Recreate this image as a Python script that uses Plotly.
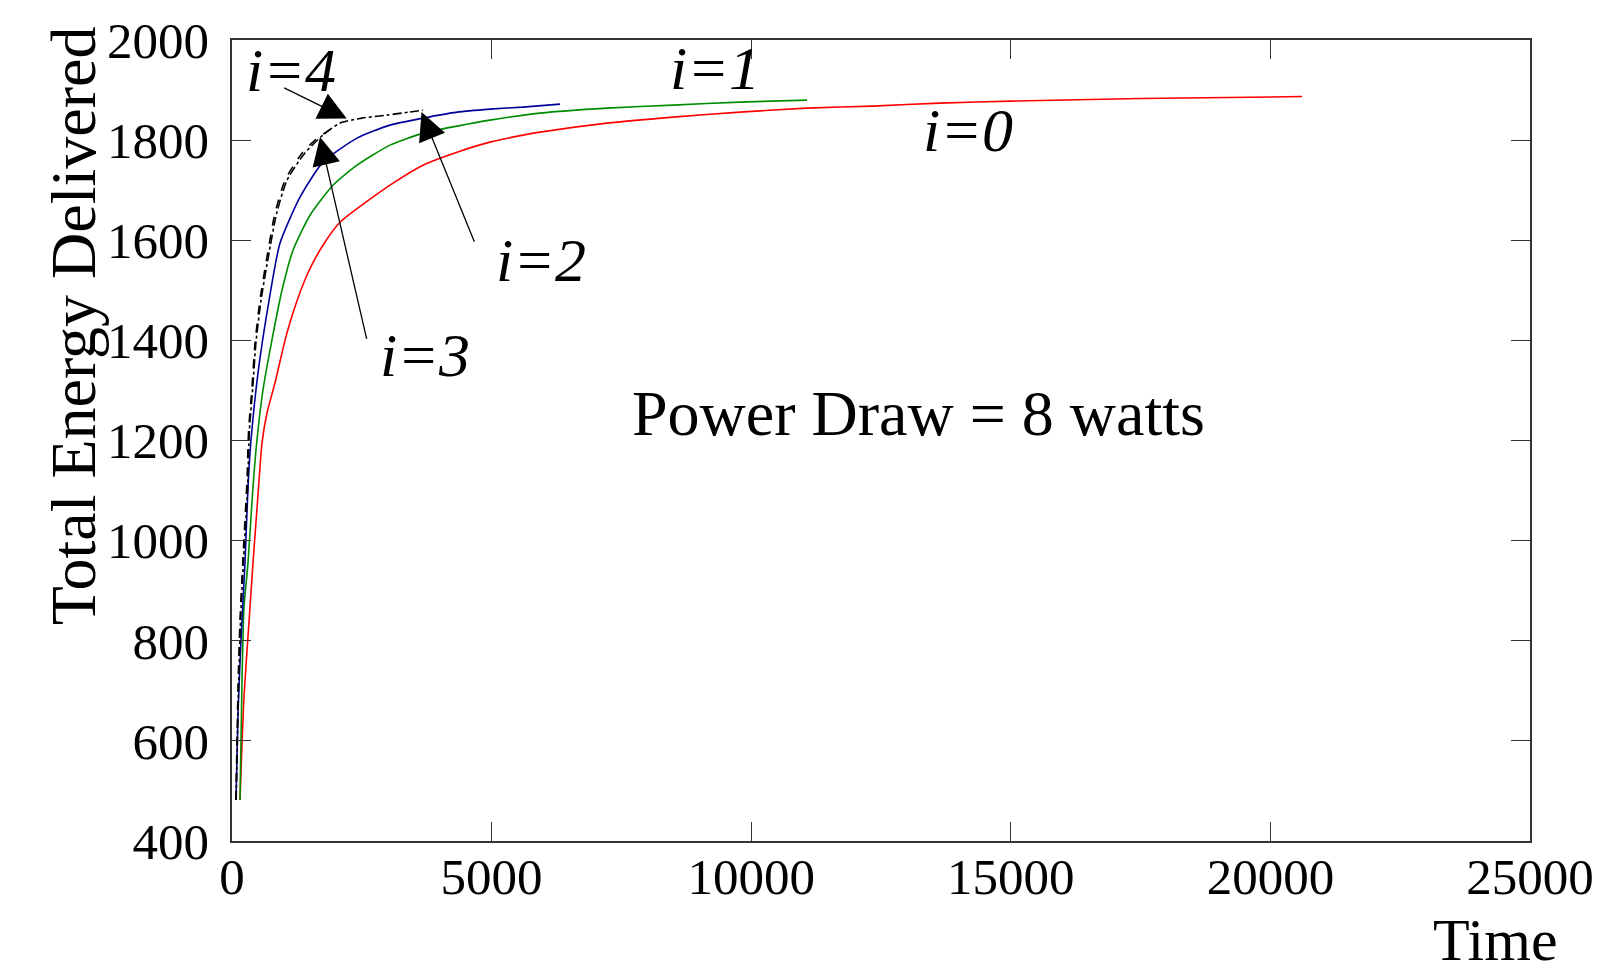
import plotly.graph_objects as go

# ---------------- data ----------------
x_i0 = [154, 231, 327, 404, 500, 578, 674, 828, 1021, 1213, 1464, 1752, 2080, 3043, 3679,
        4334, 4969, 5605, 5932, 7222, 8494, 9784, 11074, 12346, 13636, 15000, 17500, 20610]
y_i0 = [482, 688, 837, 955, 1090, 1195, 1255, 1315, 1400, 1467, 1535, 1590, 1636, 1710, 1750,
        1776, 1796, 1810, 1816, 1834, 1846, 1856, 1864, 1868, 1874, 1878, 1883, 1887]

x_i1 = [154, 193, 231, 308, 404, 481, 597, 770, 963, 1175, 1502, 1945, 2408, 3043, 3679,
        4334, 4969, 5932, 7222, 8494, 9784, 11074]
y_i1 = [482, 722, 867, 955, 1107, 1201, 1301, 1401, 1500, 1580, 1650, 1710, 1750, 1790, 1814,
        1828, 1840, 1854, 1864, 1870, 1876, 1880]

x_i2 = [77, 116, 173, 250, 308, 366, 501, 693, 924, 1310, 1753, 2408, 3043, 3679, 4334,
        4969, 5605, 6317]
y_i2 = [482, 656, 801, 955, 1107, 1201, 1335, 1467, 1594, 1686, 1756, 1804, 1830, 1844, 1856,
        1862, 1866, 1872]

x_i3 = [77, 116, 154, 212, 289, 320, 385, 443, 539, 674, 828, 1021, 1348, 1600, 1900]
y_i3 = [482, 708, 841, 967, 1120, 1221, 1306, 1394, 1481, 1567, 1654, 1720, 1774, 1800, 1822]

x_i4 = [80, 125, 165, 225, 300, 335, 400, 460, 560, 700, 860, 1060, 1400, 1750, 2080, 2504,
        2985, 3408, 3680]
y_i4 = [482, 700, 841, 967, 1101, 1221, 1306, 1394, 1481, 1567, 1654, 1720, 1774, 1810, 1834,
        1844, 1850, 1856, 1860]

x_ticks = [0, 5000, 10000, 15000, 20000, 25000]
y_ticks = [400, 600, 800, 1000, 1200, 1400, 1600, 1800, 2000]

FONT = "Liberation Serif"

fig = go.Figure()
series = [
    (x_i0, y_i0, "#ff0000", "solid", "i=0"),
    (x_i1, y_i1, "#008c00", "solid", "i=1"),
    (x_i2, y_i2, "#00009a", "solid", "i=2"),
    (x_i3, y_i3, "#000000", "dash", "i=3"),
    (x_i4, y_i4, "#000000", "dashdot", "i=4"),
]
for xs, ys, col, dash, name in series:
    fig.add_trace(go.Scatter(x=xs, y=ys, mode="lines", name=name,
                             line=dict(color=col, width=1.6, dash=dash,
                                       shape="spline", smoothing=0.6)))

axis_common = dict(showline=True, linecolor="#333333", linewidth=1.5, mirror="allticks",
                   ticks="inside", ticklen=19, tickwidth=1.2, tickcolor="#333333",
                   showgrid=False, zeroline=False, automargin=False,
                   ticklabeloverflow="allow",
                   tickfont=dict(family=FONT, size=51, color="black"))

fig.update_layout(
    width=1599, height=968,
    margin=dict(l=232, r=69, t=40, b=127),
    paper_bgcolor="white", plot_bgcolor="white",
    showlegend=False,
    xaxis=dict(range=[0, 25000], tickvals=x_ticks, ticktext=[str(v) for v in x_ticks],
               ticklabelstandoff=-10, **axis_common),
    yaxis=dict(range=[400, 2000], tickvals=y_ticks, ticktext=[str(v) for v in y_ticks],
               ticklabelstandoff=11, **axis_common),
)

lab_font = dict(family=FONT, size=62, color="black")
labels = [("<i>i=4</i>", 1136, 1940), ("<i>i=1</i>", 9302, 1944), ("<i>i=0</i>", 14176, 1820),
          ("<i>i=2</i>", 5951, 1561), ("<i>i=3</i>", 3717, 1371)]
for txt, lx, ly in labels:
    fig.add_annotation(x=lx, y=ly, xref="x", yref="y", text=txt, showarrow=False,
                       font=lab_font, xanchor="center", yanchor="middle")

fig.add_annotation(x=13213, y=1253, xref="x", yref="y", text="Power Draw = 8 watts",
                   showarrow=False, font=dict(family=FONT, size=64, color="black"))

# arrows: (head x, head y, tail x, tail y)
arrows = [(2210, 1843, 975, 1906), (1695, 1806, 2600, 1400), (3650, 1856, 4680, 1594)]
for hx, hy, tx, ty in arrows:
    fig.add_annotation(x=hx, y=hy, ax=tx, ay=ty, xref="x", yref="y", axref="x", ayref="y",
                       text="", showarrow=True, arrowhead=2, arrowsize=4.3, arrowwidth=1.3,
                       arrowcolor="black")

fig.add_annotation(x=-0.1225, y=0.644, xref="paper", yref="paper", text="Total Energy Delivered",
                   textangle=-90, showarrow=False, font=dict(family=FONT, size=64, color="black"),
                   xanchor="center", yanchor="middle")
fig.add_annotation(x=1.0231, y=-0.1235, xref="paper", yref="paper", text="Time",
                   showarrow=False, font=dict(family=FONT, size=60, color="black"),
                   xanchor="right", yanchor="middle")

fig.write_html("out.html", config={"displayModeBar": False},
               post_script="document.body.style.margin='0px';document.body.style.overflow='hidden';")
